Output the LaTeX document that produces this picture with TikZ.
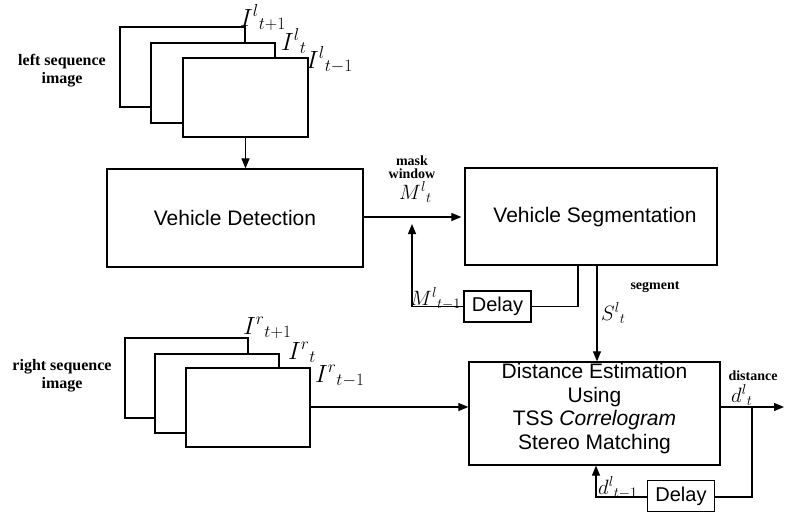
\documentclass[tikz,border=0pt]{standalone}
\usepackage{fontspec}
\setmainfont{Liberation Serif}
\newfontfamily\boxfont{Liberation Sans}
\usetikzlibrary{arrows.meta,calc}

\tikzset{
  wire/.style={line width=1.2pt},
  flow/.style={wire,-{Triangle[length=10pt,width=8pt]}},
  frame/.style={draw,line width=1.2pt,fill=white},
  block/.style={draw,line width=1.3pt,fill=white,inner sep=0pt},
  blocktext/.style={font=\boxfont\fontsize{21}{23.5}\selectfont,align=center,inner sep=0pt},
  delaybox/.style={block,font=\boxfont\fontsize{20}{22}\selectfont,minimum width=67pt,minimum height=31pt},
  caption/.style={font=\bfseries\fontsize{16}{20}\selectfont,align=center,inner sep=0pt},
  smallcap/.style={font=\bfseries\fontsize{14}{13}\selectfont,align=center,inner sep=0pt},
  seqlabel/.style={font=\fontsize{23}{23}\selectfont,inner sep=0pt,anchor=base west},
  siglabel/.style={font=\fontsize{21}{21}\selectfont,inner sep=0pt,anchor=base west},
}

\begin{document}
\begin{tikzpicture}[x=1pt,y=-1pt]
\useasboundingbox (0,0) rectangle (788,512);

% left image sequence (back to front)
\path[frame] (120,27) rectangle (245,107);
\path[frame] (151,43) rectangle (275,123);
\path[frame] (183,58) rectangle (308,137);
\coordinate (lfront) at (245.5,137);
\node[caption] (lcap) at (62,71) {left sequence\\[-2pt]image};
\node[seqlabel] (il1) at (240,26) {$I^{l}{}_{t+1}$};
\node[seqlabel] (il2) at (281,50) {$I^{l}{}_{t}$};
\node[seqlabel] (il3) at (306,68) {$I^{l}{}_{t-1}$};

% right image sequence (back to front)
\path[frame] (125,338) rectangle (248,418);
\path[frame] (155,354) rectangle (279,433);
\path[frame] (186,368) rectangle (310,447);
\coordinate (rfront) at (310,407);
\node[caption] (rcap) at (62,376) {right sequence\\[-2pt]image};
\node[seqlabel] (ir1) at (243,334) {$I^{r}{}_{t+1}$};
\node[seqlabel] (ir2) at (288,359) {$I^{r}{}_{t}$};
\node[seqlabel] (ir3) at (315,382) {$I^{r}{}_{t-1}$};

% processing blocks
\node[block,minimum width=256pt,minimum height=98pt] (vd) at (235,218) {};
\node[blocktext] at (vd.center) {Vehicle Detection};
\node[block,minimum width=252pt,minimum height=97pt] (vs) at (591,216.5) {};
\node[blocktext] at ($(vs.center)+(4,1)$) {Vehicle Segmentation};
\node[block,minimum width=251pt,minimum height=103pt] (de) at (594.5,413.5) {};
\node[blocktext] at ($(de.center)+(0,-5)$) {Distance Estimation\\Using\\TSS \textit{Correlogram}\\Stereo Matching};
\node[delaybox] (d1) at (497.5,306.5) {Delay};
\node[delaybox] (d2) at (681,496) {Delay};

% left sequence into detection
\draw[flow] (lfront) -- (lfront |- vd.north);

% detection to segmentation with mask window
\coordinate (mj) at (412,217);
\draw[flow] (vd.east |- mj) -- ($(vs.west |- mj)+(-3,0)$);
\node[smallcap] (mw) at (412,167) {mask\\window};
\node[siglabel] (ml) at (399,199) {$M^{l}{}_{t}$};

% mask feedback through delay
\coordinate (sfb) at (578,265);
\draw[wire] (vs.south -| sfb) -- (sfb |- d1.east) -- (d1.east);
\draw[flow] (d1.west) -- (d1.west -| mj) -- ($(mj)+(0,7)$);
\node[siglabel] (mp) at (410,305) {$M^{l}{}_{t-1}$};

% segment to distance estimation
\coordinate (sj) at (597,265);
\draw[flow] (sj) -- (sj |- de.north);
\node[smallcap] (seg) at (655,287) {segment};
\node[siglabel] (sl) at (601,320) {$S^{l}{}_{t}$};

% right sequence into distance estimation
\draw[flow] (rfront) -- (rfront -| de.west);

% distance output with feedback through delay
\coordinate (out) at (784,407);
\coordinate (dj) at (752,407);
\draw[flow] (de.east |- out) -- (out);
\node[smallcap] (dist) at (753,376) {distance};
\node[siglabel] (dl) at (731,402) {$d^{l}{}_{t}$};
\coordinate (dfb) at (596,497);
\draw[wire] (dj) -- (dj |- dfb) -- (d2.east |- dfb);
\draw[flow] (d2.west |- dfb) -- (dfb) -- (dfb |- de.south);
\node[siglabel] (dp) at (598,494) {$d^{l}{}_{t-1}$};
\end{tikzpicture}
\end{document}
